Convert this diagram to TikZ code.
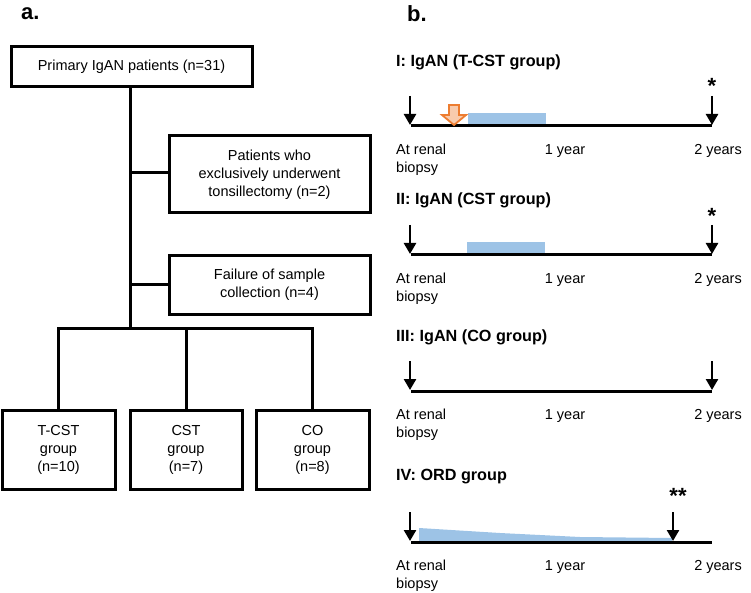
\documentclass[tikz,border=0pt]{standalone}
\usepackage{fontspec}
\setmainfont{Liberation Sans}
\usetikzlibrary{arrows.meta}
\definecolor{barblue}{HTML}{9DC3E6}
\definecolor{orng}{HTML}{ED7D31}
\definecolor{peach}{HTML}{F8CBAD}
\begin{document}
\begin{tikzpicture}[x=1pt,y=-1pt,
  box/.style={draw,line width=3pt,align=center,inner sep=0pt,
    font=\fontsize{14.5}{18}\selectfont},
  conn/.style={line width=3pt},
  tline/.style={line width=3pt},
  darr/.style={line width=2.5pt,-{Triangle[length=11pt,width=12pt]}},
  lbl/.style={inner sep=0pt,align=left,font=\fontsize{14.5}{17.5}\selectfont},
  ttl/.style={inner sep=0pt,anchor=west,font=\fontsize{16.2}{18}\selectfont\bfseries},
  star/.style={inner sep=0pt,font=\fontsize{22}{22}\selectfont\bfseries},
  panel/.style={inner sep=0pt,anchor=west,font=\fontsize{22}{24}\selectfont\bfseries}]
\useasboundingbox (0,0) rectangle (751,593);
% panel labels
\node[panel] (pa) at (21,14) {a.};
\node[panel] (pb) at (407,14) {b.};
% ---- flow chart ----
\node[box,minimum width=241pt,minimum height=40pt] (top) at (131.5,67) {Primary IgAN patients (n=31)};
\node[box,minimum width=201pt,minimum height=77pt] (ex1) at (269.5,174.5) {Patients who\\exclusively underwent\\tonsillectomy (n=2)};
\node[box,minimum width=201pt,minimum height=58pt] (ex2) at (269.5,285) {Failure of sample\\collection (n=4)};
\node[box,minimum width=113pt,minimum height=79pt] (g1) at (58.5,449.5) {T-CST\\group\\(n=10)};
\node[box,minimum width=112pt,minimum height=79pt] (g2) at (186,449.5) {CST\\group\\(n=7)};
\node[box,minimum width=113pt,minimum height=79pt] (g3) at (312.5,449.5) {CO\\group\\(n=8)};
\coordinate (spinetop) at (130,87);
\coordinate (bus) at (130,328);
\coordinate (j1) at (130,173);
\coordinate (j2) at (130,284);
\draw[conn] (spinetop) -- (bus);
\draw[conn] (j1) -- (ex1.west |- j1);
\draw[conn] (j2) -- (ex2.west |- j2);
\draw[conn,line join=miter] (g1.north) -- (g1.north |- bus) -- (g3.north |- bus) -- (g3.north);
\draw[conn] (g2.north |- bus) -- (g2.north);
% ---- timelines ----
\node[ttl] (t1) at (396,62) {I: IgAN (T-CST group)};
\node[ttl] (t2) at (396,200) {II: IgAN (CST group)};
\node[ttl] (t3) at (396,337) {III: IgAN (CO group)};
\node[ttl] (t4) at (396,477) {IV: ORD group};
% bars
\fill[barblue] (468,113) rectangle (546,126);
\fill[barblue] (467,242) rectangle (545,255);
\fill[barblue] (419,528) -- (500,533) -- (580,537) -- (672,538) -- (672,541) -- (419,541) -- cycle;
\foreach \n/\y/\r in {1/126/712,2/255/712,3/391/712,4/542/673}{
  \coordinate (s\n) at (411,\y);
  \coordinate (e\n) at (712,\y);
  \draw[tline] (s\n) -- (e\n);
  \coordinate (la\n) at (410,\y-30);
  \coordinate (lt\n) at (410,\y-1);
  \draw[darr] (la\n) -- (lt\n);
  \coordinate (ra\n) at (\r,\y-30);
  \coordinate (rt\n) at (\r,\y-1);
  \draw[darr] (ra\n) -- (rt\n);
  \node[lbl,anchor=north west] (ar\n) at (396,\y+18) {At renal\\biopsy};
  \node[lbl,anchor=north] (oy\n) at (565,\y+18) {1 year};
  \node[lbl,anchor=north east] (ty\n) at (742,\y+18) {2 years};
}
% asterisks
\node[star] (st1) at (712,86) {*};
\node[star] (st2) at (712,216) {*};
\node[star] (st4) at (678,496) {**};
% orange block arrow
\draw[orng,fill=peach,line width=1.8pt,line join=miter]
  (449,105) -- (459,105) -- (459,115) -- (466,115) -- (454,125) -- (442,115) -- (449,115) -- cycle;
\end{tikzpicture}
\end{document}
